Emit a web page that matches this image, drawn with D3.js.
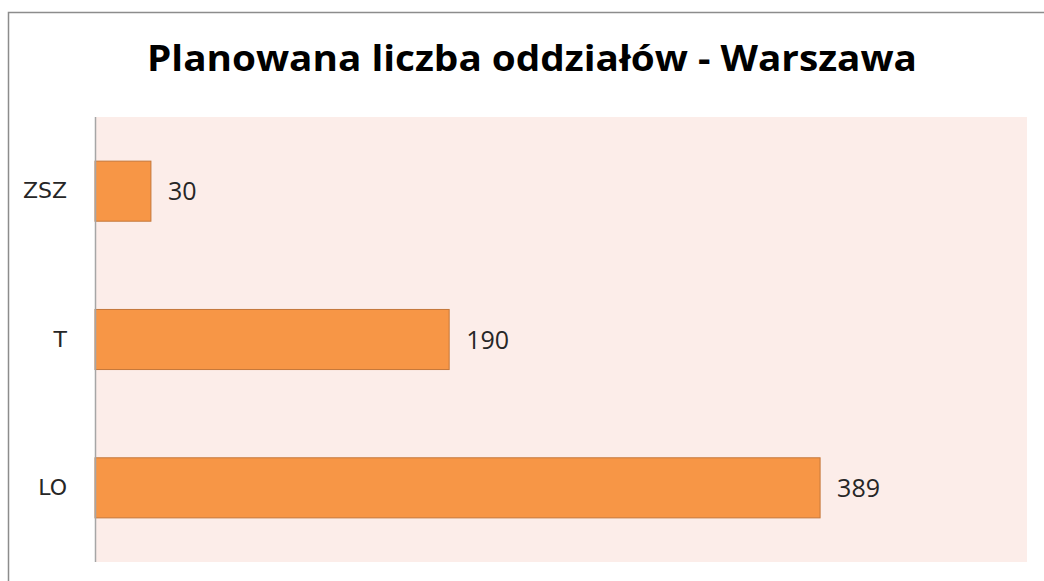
<!DOCTYPE html>
<html>
<head>
<meta charset="utf-8">
<script src="https://cdn.jsdelivr.net/npm/d3@7"></script>
<style>
  html, body { margin: 0; padding: 0; background: #ffffff; }
  svg { display: block; }
</style>
</head>
<body>
<script>
const title = "Planowana liczba oddziałów - Warszawa";
const categories = ["ZSZ", "T", "LO"];
const values = [30, 190, 389];
const valueDomain = [0, 500];

const W = 1044, H = 581;
const plot = { left: 95, right: 1027, top: 117, bottom: 562 };

const svg = d3.select("body").append("svg")
  .attr("width", W).attr("height", H);

// outer chart border (cropped at right/bottom)
svg.append("rect")
  .attr("x", 8.5).attr("y", 12.5)
  .attr("width", W + 20).attr("height", H + 20)
  .attr("fill", "#ffffff")
  .attr("stroke", "#8c8c8c").attr("stroke-width", 1.5);

// plot background
svg.append("rect")
  .attr("x", plot.left).attr("y", plot.top)
  .attr("width", plot.right - plot.left).attr("height", plot.bottom - plot.top)
  .attr("fill", "#fcede9");

const x = d3.scaleLinear().domain(valueDomain).range([plot.left, plot.right]);
const y = d3.scaleBand().domain(categories).range([plot.top, plot.bottom])
  .paddingInner(0.595).paddingOuter(0.2975);

// bars
svg.selectAll("rect.bar").data(values).enter().append("rect")
  .attr("class", "bar")
  .attr("x", x(0))
  .attr("y", (d, i) => y(categories[i]))
  .attr("width", d => x(d) - x(0))
  .attr("height", y.bandwidth())
  .attr("fill", "#f79646")
  .attr("stroke", "#c4773a").attr("stroke-width", 1);

// value labels
svg.selectAll("text.val").data(values).enter().append("text")
  .attr("class", "val")
  .attr("x", d => x(d) + 17)
  .attr("y", (d, i) => y(categories[i]) + y.bandwidth() / 2)
  .attr("dy", "0.36em")
  .attr("font-family", "'Open Sans', sans-serif")
  .attr("font-size", 25)
  .attr("fill", "#262626")
  .text(d => d);

// y axis
const yAxis = d3.axisLeft(y).tickSize(0).tickPadding(28);
const gy = svg.append("g").attr("transform", `translate(${plot.left},0)`).call(yAxis);
gy.select(".domain").attr("stroke", "#a6a6a6").attr("stroke-width", 1.5)
  .attr("d", `M0.5,${plot.top}V${plot.bottom}`);
gy.selectAll("text")
  .attr("font-family", "'DejaVu Sans', sans-serif")
  .attr("font-size", 22)
  .attr("fill", "#262626");

// title
const t = svg.append("text")
  .attr("x", (147 + 917) / 2).attr("y", 71)
  .attr("text-anchor", "middle")
  .attr("font-family", "'Open Sans', sans-serif")
  .attr("font-weight", "bold")
  .attr("font-size", 36)
  .attr("fill", "#000000")
  .text(title);
t.attr("textLength", 770).attr("lengthAdjust", "spacingAndGlyphs");
</script>
</body>
</html>
